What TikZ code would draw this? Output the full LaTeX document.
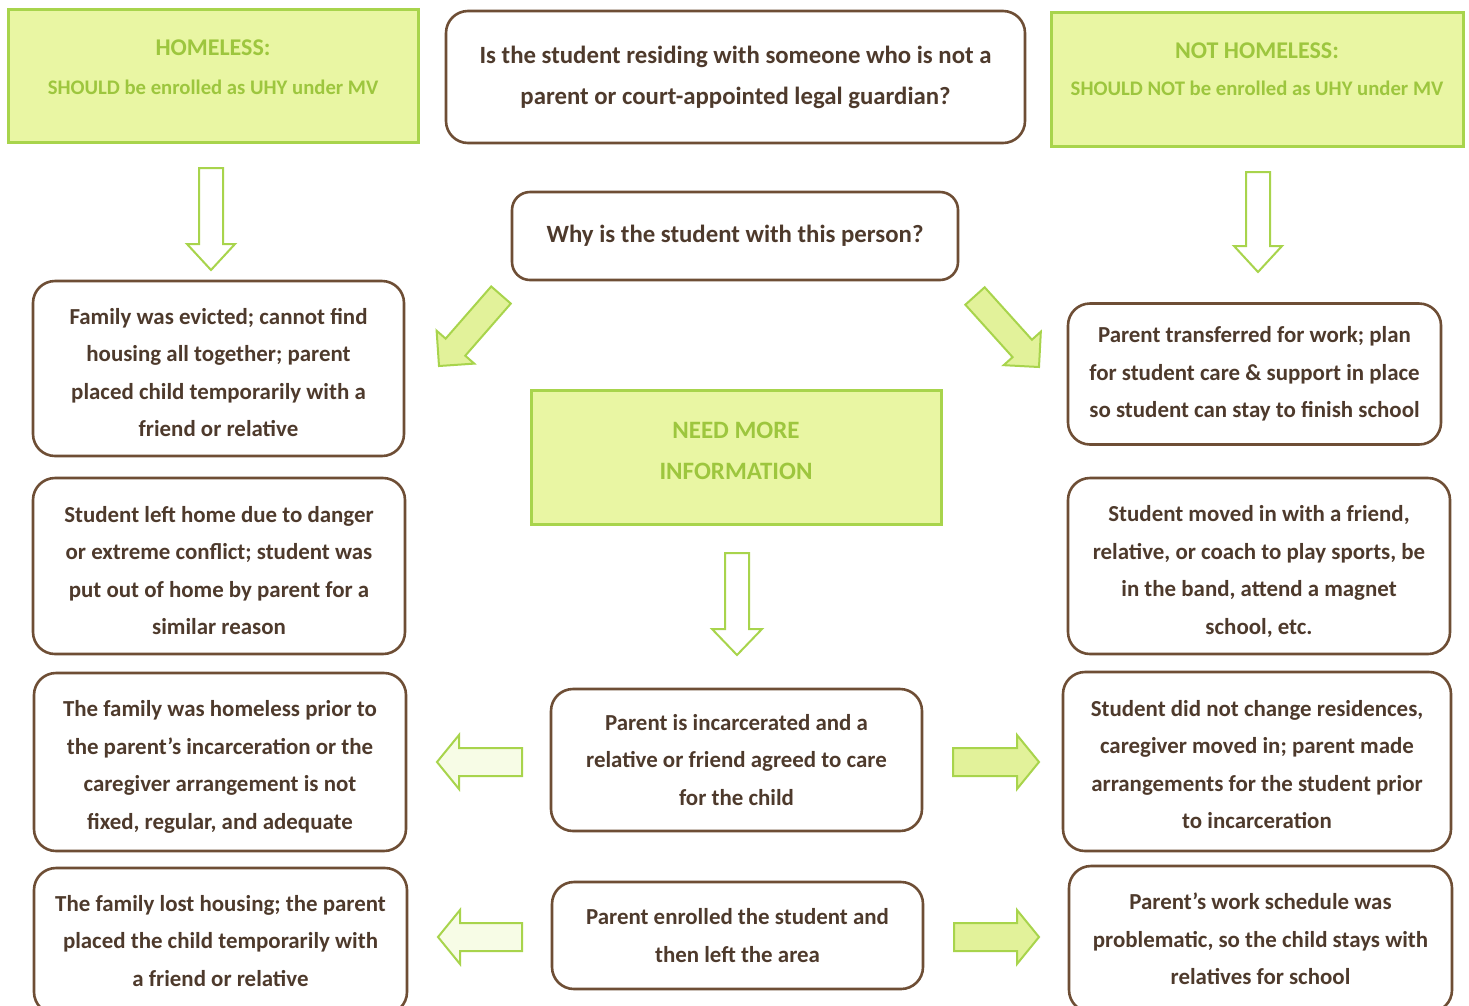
\documentclass[tikz,border=0pt]{standalone}
\usepackage{fontspec}
\setmainfont{Carlito}
\usetikzlibrary{calc}
\definecolor{gfill}{HTML}{E9F6A3}
\definecolor{gline}{HTML}{A8D44C}
\definecolor{gtext}{HTML}{9DC63E}
\definecolor{afill}{HTML}{E2F29A}
\definecolor{apale}{HTML}{F7FCE6}
\definecolor{bline}{HTML}{6E4E35}
\definecolor{btext}{HTML}{4E3A2C}
\newcommand\blockarrow[6]{%
\draw[#6] let \p1=(#1), \p2=(#2), \n1={atan2(\y2-\y1,\x2-\x1)}, \n2={veclen(\x2-\x1,\y2-\y1)-#5} in
 ($(\p1)+(\n1+90:#3)$) -- ($(\p1)+(\n1:\n2)+(\n1+90:#3)$) -- ($(\p1)+(\n1:\n2)+(\n1+90:#4)$) -- (\p2)
 -- ($(\p1)+(\n1:\n2)+(\n1-90:#4)$) -- ($(\p1)+(\n1:\n2)+(\n1-90:#3)$) -- ($(\p1)+(\n1-90:#3)$) -- cycle;}
\tikzset{
 greenbox/.style={draw=gline, line width=3pt, fill=gfill, inner sep=0pt},
 greentext/.style={text=gtext, font=\bfseries\fontsize{24}{39}\selectfont, align=center, inner sep=0pt},
 brownbox/.style={draw=bline, line width=2.6pt, rounded corners=22pt, fill=white, text=btext, font=\bfseries\fontsize{22.9}{37.5}\selectfont, align=center, inner sep=0pt},
 bigq/.style={font=\bfseries\fontsize{24.8}{41}\selectfont},
 outarrow/.style={draw=gline, line width=2pt, fill=white, line join=miter},
 fillarrow/.style={draw=gline, line width=2pt, fill=afill, line join=miter},
 palearrow/.style={draw=gline, line width=2pt, fill=apale, line join=miter},
}
\begin{document}
\begin{tikzpicture}[x=1pt,y=1pt]
\useasboundingbox (0,0) rectangle (1469,-1005);
\clip (0,0) rectangle (1469,-1005);
\fill[white] (0,0) rectangle (1469,-1005);
% top row
\node[greenbox, minimum width=410, minimum height=133] (homeless) at (213,-75.5) {};
\node[greentext] (homelesst) at ($(homeless.center)+(0,8.5)$) {HOMELESS:\\{\fontsize{20.7}{39}\selectfont SHOULD be enrolled as UHY under MV}};
\node[brownbox, bigq, minimum width=579, minimum height=132] (question) at (735.5,-77) {Is the student residing with someone who is not a\\parent or court-appointed legal guardian?};
\node[greenbox, minimum width=412, minimum height=134] (nothomeless) at (1257,-79) {};
\node[greentext, font=\bfseries\fontsize{24}{37}\selectfont] (nothomelesst) at ($(nothomeless.center)+(0,9.5)$) {NOT HOMELESS:\\{\fontsize{20.7}{37}\selectfont SHOULD NOT be enrolled as UHY under MV}};
\node[brownbox, bigq, minimum width=446, minimum height=88, rounded corners=18pt] (why) at (735,-236) {Why is the student with this person?};
% left column
\node[brownbox, minimum width=371, minimum height=175] (l1) at (218.5,-368.5) {};
\node[brownbox, draw=none, fill=none] (l1t) at ($(l1.center)+(0,-4)$) {Family was evicted; cannot find\\housing all together; parent\\placed child temporarily with a\\friend or relative};
\node[brownbox, minimum width=372, minimum height=176] (l2) at (219,-566) {};
\node[brownbox, draw=none, fill=none] (l2t) at ($(l2.center)+(0,-4.5)$) {Student left home due to danger\\or extreme conflict; student was\\put out of home by parent for a\\similar reason};
\node[brownbox, minimum width=372, minimum height=178] (l3) at (220,-762) {};
\node[brownbox, draw=none, fill=none] (l3t) at ($(l3.center)+(0,-5)$) {The family was homeless prior to\\the parent's incarceration or the\\caregiver arrangement is not\\fixed, regular, and adequate};
\node[brownbox, minimum width=373, minimum height=146] (l4) at (220.5,-941) {The family lost housing; the parent\\placed the child temporarily with\\a friend or relative};
% right column
\node[brownbox, minimum width=373, minimum height=141] (r1) at (1254.5,-374) {Parent transferred for work; plan\\for student care \& support in place\\so student can stay to finish school};
\node[brownbox, minimum width=382, minimum height=176] (r2) at (1259,-566) {};
\node[brownbox, draw=none, fill=none] (r2t) at ($(r2.center)+(0,-5.5)$) {Student moved in with a friend,\\relative, or coach to play sports, be\\in the band, attend a magnet\\school, etc.};
\node[brownbox, minimum width=388, minimum height=179] (r3) at (1257,-761.5) {};
\node[brownbox, draw=none, fill=none] (r3t) at ($(r3.center)+(0,-3)$) {Student did not change residences,\\caregiver moved in; parent made\\arrangements for the student prior\\to incarceration};
\node[brownbox, minimum width=383, minimum height=146] (r4) at (1260.5,-939) {Parent's work schedule was\\problematic, so the child stays with\\relatives for school};
% middle column
\node[greenbox, minimum width=410, minimum height=134] (need) at (736,-457) {};
\node[greentext, font=\bfseries\fontsize{25}{41}\selectfont] (needt) at ($(need.center)+(0,6)$) {NEED MORE\\INFORMATION};
\node[brownbox, minimum width=371, minimum height=142] (m1) at (736.5,-760) {Parent is incarcerated and a\\relative or friend agreed to care\\for the child};
\node[brownbox, minimum width=371, minimum height=107] (m2) at (737.5,-935.5) {Parent enrolled the student and\\then left the area};
% arrow end points
\coordinate (a1s) at (211,-168); \coordinate (a1e) at (211,-270);
\coordinate (a2s) at (1258,-172); \coordinate (a2e) at (1258,-272);
\coordinate (a3s) at (501,-295); \coordinate (a3e) at (439,-366);
\coordinate (a4s) at (975,-296); \coordinate (a4e) at (1039,-367);
\coordinate (a5s) at (737,-553); \coordinate (a5e) at (737,-655);
\coordinate (a6s) at (522,-762); \coordinate (a6e) at (437,-762);
\coordinate (a7s) at (953,-762); \coordinate (a7e) at (1039,-762);
\coordinate (a8s) at (522,-937); \coordinate (a8e) at (438,-937);
\coordinate (a9s) at (954,-937); \coordinate (a9e) at (1039,-937);
\blockarrow{a1s}{a1e}{12}{24}{26}{outarrow}
\blockarrow{a2s}{a2e}{12}{24}{26}{outarrow}
\blockarrow{a3s}{a3e}{13}{25}{25}{fillarrow}
\blockarrow{a4s}{a4e}{13}{25}{25}{fillarrow}
\blockarrow{a5s}{a5e}{12}{25}{26}{outarrow}
\blockarrow{a6s}{a6e}{14}{27}{22}{palearrow}
\blockarrow{a7s}{a7e}{14}{27}{22}{fillarrow}
\blockarrow{a8s}{a8e}{14}{27}{22}{palearrow}
\blockarrow{a9s}{a9e}{14}{27}{22}{fillarrow}
\end{tikzpicture}
\end{document}
